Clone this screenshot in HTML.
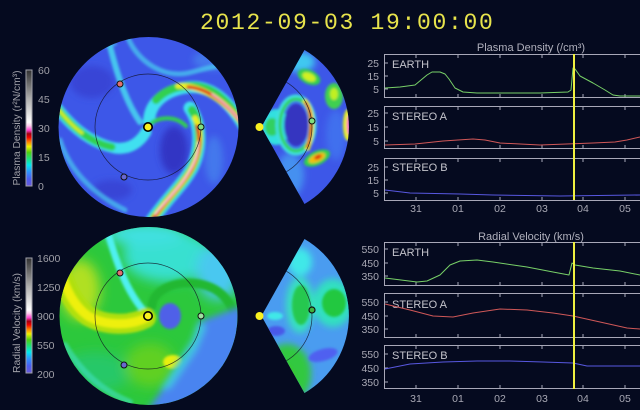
<!DOCTYPE html>
<html><head><meta charset="utf-8"><style>
html,body{margin:0;padding:0;background:#050a1f;}
svg{display:block;}
text{font-family:"Liberation Sans",sans-serif;}
</style></head><body>
<svg width="640" height="410" viewBox="0 0 640 410" xmlns="http://www.w3.org/2000/svg">
<defs>
<filter id="b1" x="-20%" y="-20%" width="140%" height="140%"><feGaussianBlur stdDeviation="1"/></filter>
<filter id="b2" x="-30%" y="-30%" width="160%" height="160%"><feGaussianBlur stdDeviation="1.4"/></filter>
<filter id="b6" x="-50%" y="-50%" width="200%" height="200%"><feGaussianBlur stdDeviation="6"/></filter>
<filter id="b4" x="-50%" y="-50%" width="200%" height="200%"><feGaussianBlur stdDeviation="3.5"/></filter>
<clipPath id="cTop"><circle cx="148.5" cy="127" r="90"/></clipPath>
<clipPath id="cBot"><circle cx="148.5" cy="316" r="89"/></clipPath>
<clipPath id="wTop"><path d="M262,126 L304.5,50 A89,89 0 0 1 304.5,204 L262,128 Z"/></clipPath>
<clipPath id="wBot"><path d="M262,315 L304.5,239 A89,89 0 0 1 304.5,393 L262,317 Z"/></clipPath>
<linearGradient id="cmap" x1="0" y1="1" x2="0" y2="0">
<stop offset="0" stop-color="#6a5ad8"/>
<stop offset="0.06" stop-color="#4a5cf0"/>
<stop offset="0.12" stop-color="#3090ff"/>
<stop offset="0.18" stop-color="#00e8f0"/>
<stop offset="0.24" stop-color="#20e070"/>
<stop offset="0.29" stop-color="#50d010"/>
<stop offset="0.34" stop-color="#f0f000"/>
<stop offset="0.38" stop-color="#ff8000"/>
<stop offset="0.42" stop-color="#f00000"/>
<stop offset="0.45" stop-color="#a00010"/>
<stop offset="0.48" stop-color="#ff40d0"/>
<stop offset="0.52" stop-color="#ffd0f0"/>
<stop offset="0.55" stop-color="#ffffff"/>
<stop offset="0.75" stop-color="#b0b0b0"/>
<stop offset="1" stop-color="#303030"/>
</linearGradient>
</defs>

<rect width="640" height="410" fill="#050a1f"/>

<!-- Title -->
<text x="200" y="29" font-size="23" letter-spacing="1.7" fill="#e8e44c" style="font-family:'Liberation Mono',monospace">2012-09-03 19:00:00</text>

<!-- Colorbars -->
<rect x="26" y="70" width="6" height="116" fill="url(#cmap)" stroke="#a0a0a8" stroke-width="1"/>
<g font-size="10.5" fill="#a0a0a8">
<text x="38" y="74">60</text>
<text x="38" y="103">45</text>
<text x="38" y="132">30</text>
<text x="38" y="161">15</text>
<text x="38" y="190">0</text>
</g>
<text transform="translate(20,128) rotate(-90)" text-anchor="middle" font-size="10.5" fill="#a0a0a8" textLength="115" lengthAdjust="spacingAndGlyphs">Plasma Density (r²N/cm³)</text>

<rect x="26" y="258" width="6" height="115" fill="url(#cmap)" stroke="#a0a0a8" stroke-width="1"/>
<g font-size="10.5" fill="#a0a0a8">
<text x="37" y="262">1600</text>
<text x="37" y="291">1250</text>
<text x="37" y="320">900</text>
<text x="37" y="349">550</text>
<text x="37" y="378">200</text>
</g>
<text transform="translate(20,323) rotate(-90)" text-anchor="middle" font-size="10.5" fill="#a0a0a8" textLength="100" lengthAdjust="spacingAndGlyphs">Radial Velocity (km/s)</text>

<!-- Density circle -->
<g clip-path="url(#cTop)">
<rect x="55" y="33" width="190" height="190" fill="#3d57e8"/>
<g filter="url(#b4)">
<ellipse cx="174" cy="150" rx="14" ry="24" fill="#3336c4"/>
<ellipse cx="92" cy="82" rx="22" ry="16" fill="#3944d6"/>
<ellipse cx="112" cy="190" rx="20" ry="10" fill="#3944d6"/>
<ellipse cx="214" cy="160" rx="9" ry="24" fill="#4680ee" opacity="0.8"/>
<ellipse cx="215" cy="60" rx="22" ry="10" fill="#4680ee" opacity="0.8"/>
</g>
<g filter="url(#b2)" fill="none" stroke-linecap="round">
<path d="M140,122 C128,105 118,80 108,38" stroke="#48d8f0" stroke-width="6" opacity="0.85"/>
<path d="M128,38 C138,62 165,80 192,72 C208,68 220,64 234,66" stroke="#48d0f0" stroke-width="5" opacity="0.7"/>
<path d="M60,140 C70,172 95,195 125,210" stroke="#48c8f0" stroke-width="5" opacity="0.7"/>
<path d="M72,62 C85,52 100,46 115,44" stroke="#48c0f0" stroke-width="4" opacity="0.6"/>
<!-- Arm A -->
<path d="M50,98 C68,125 90,143 115,148 C130,150 140,142 146,132" stroke="#40e0f0" stroke-width="11"/>
<path d="M50,98 C68,125 90,143 112,147" stroke="#30d050" stroke-width="7"/>
<path d="M50,98 C62,115 72,126 82,133" stroke="#d8f020" stroke-width="3"/>
<!-- Arm B -->
<path d="M149,121 C150,100 170,88 192,87 C212,87 228,100 244,126" stroke="#40e0f0" stroke-width="12"/>
<path d="M156,100 C165,90 178,86 192,86 C212,86 228,100 244,126" stroke="#30d050" stroke-width="8"/>
<path d="M178,86 C195,85 222,95 244,126" stroke="#e8f020" stroke-width="5.5"/>
<path d="M188,87 C205,88 225,100 244,126" stroke="#e02020" stroke-width="3.2"/>
<path d="M212,94 C224,102 234,112 244,126" stroke="#ffc0e0" stroke-width="1.5"/>
<!-- CME arc -->
<path d="M190,108 C202,125 201,150 192,168 C183,185 165,200 148,226" stroke="#40e0f0" stroke-width="13"/>
<path d="M192,110 C202,125 201,150 192,168 C183,185 165,200 148,226" stroke="#30d050" stroke-width="8.5"/>
<path d="M195,118 C202,130 201,150 192,168 C183,185 165,200 148,226" stroke="#e8f020" stroke-width="5.5"/>
<path d="M197,126 C201,140 200,152 192,168 C183,185 165,200 148,226" stroke="#e02020" stroke-width="3.2"/>
<path d="M198,142 C198,152 196,160 190,170 C182,185 168,198 155,214" stroke="#ffe0f0" stroke-width="1.6"/>
<!-- near-sun hook -->
<path d="M150,124 C160,116 176,116 186,126" stroke="#30d050" stroke-width="4"/>
</g>
<circle cx="148" cy="127" r="53" fill="none" stroke="#101020" stroke-width="0.7" opacity="0.8"/>
</g>
<circle cx="120" cy="84" r="3" fill="#e07070" stroke="#111" stroke-width="1"/>
<circle cx="124" cy="177" r="3" fill="#6868d0" stroke="#111" stroke-width="1"/>
<circle cx="201" cy="127" r="3" fill="#80e080" stroke="#111" stroke-width="1"/>
<circle cx="148" cy="127" r="4.2" fill="#f8f020" stroke="#000" stroke-width="1.6"/>

<!-- Density wedge -->
<g clip-path="url(#wTop)">
<rect x="255" y="45" width="100" height="165" fill="#3d57e8"/>
<g filter="url(#b4)">
<ellipse cx="300" cy="62" rx="15" ry="10" fill="#40c8f0"/>
<ellipse cx="290" cy="175" rx="14" ry="22" fill="#4590f0"/>
<ellipse cx="336" cy="135" rx="10" ry="25" fill="#4070ee"/>
</g>
<g filter="url(#b2)">
<ellipse cx="276" cy="127" rx="14" ry="18" fill="#30e0e0"/>
<ellipse cx="272" cy="127" rx="7" ry="9" fill="#30d060"/>
<ellipse cx="296" cy="125" rx="17" ry="27" fill="none" stroke="#40e0e0" stroke-width="7"/>
<ellipse cx="296" cy="125" rx="16" ry="26" fill="none" stroke="#30d050" stroke-width="3"/>
<ellipse cx="296" cy="125" rx="12" ry="21" fill="#3636c0"/>
<path d="M304,100 C313,110 314,130 307,150" fill="none" stroke="#e8f020" stroke-width="5"/>
<path d="M305,102 C313,112 313,130 307,148" fill="none" stroke="#e02020" stroke-width="2.5"/>
<ellipse cx="309" cy="77" rx="12" ry="7" fill="#30d050" transform="rotate(25 309 77)"/>
<ellipse cx="309" cy="77" rx="7" ry="4" fill="#d0f020" transform="rotate(25 309 77)"/>
<ellipse cx="334" cy="96" rx="9" ry="13" fill="#40d050"/>
<ellipse cx="334" cy="94" rx="4" ry="6" fill="#c0f020"/>
<ellipse cx="317" cy="158" rx="14" ry="7" fill="#30d050" transform="rotate(-25 317 158)"/>
<ellipse cx="317" cy="158" rx="9" ry="4" fill="#f0c010" transform="rotate(-25 317 158)"/>
<ellipse cx="318" cy="157" rx="4" ry="2" fill="#e03010" transform="rotate(-25 318 157)"/>
<ellipse cx="348" cy="125" rx="5" ry="16" fill="#e8f020"/>
<ellipse cx="349" cy="125" rx="2.5" ry="10" fill="#ff70c0"/>
</g>
<circle cx="260" cy="127" r="52" fill="none" stroke="#101020" stroke-width="0.7" opacity="0.8"/>
</g>
<circle cx="312" cy="121" r="3" fill="#80e080" stroke="#111" stroke-width="1"/>
<circle cx="259.5" cy="127" r="4" fill="#f8f020"/>

<!-- Velocity circle -->
<g clip-path="url(#cBot)">
<rect x="55" y="222" width="190" height="190" fill="#2cc83c"/>
<g filter="url(#b6)">
<ellipse cx="168" cy="256" rx="45" ry="26" fill="#38e0d0"/>
<ellipse cx="218" cy="272" rx="22" ry="28" fill="#48c8f0"/>
<ellipse cx="80" cy="290" rx="20" ry="30" fill="#b0e020"/>
<ellipse cx="95" cy="372" rx="35" ry="20" fill="#28c868"/>
<ellipse cx="150" cy="365" rx="25" ry="22" fill="#60d020"/>
<ellipse cx="145" cy="234" rx="40" ry="12" fill="#40e0e0"/>
</g>
<g filter="url(#b2)" fill="none" stroke-linecap="round">
<path d="M145,312 C130,296 118,270 106,226" stroke="#50f0f0" stroke-width="7"/>
<path d="M152,306 C153,290 175,280 200,284 C220,288 230,300 236,318" stroke="#22b830" stroke-width="9"/>
<path d="M146,318 C130,326 105,326 88,316 C74,306 66,290 60,270" stroke="#b0e010" stroke-width="20"/>
<path d="M146,318 C130,326 105,326 88,316 C74,306 66,290 60,270" stroke="#eef010" stroke-width="9"/>
<path d="M65,345 C80,370 100,390 130,402" stroke="#40e0c0" stroke-width="6" opacity="0.6"/>
<ellipse cx="170" cy="316" rx="11" ry="13" fill="#5060e8" stroke="none"/>
<ellipse cx="173" cy="362" rx="10" ry="7" fill="#e8f010" stroke="none"/>
</g>
<g filter="url(#b4)">
<path d="M198,322 L242,306 L242,412 L146,412 L162,390 L190,352 Z" fill="#4a84f0"/>
<path d="M192,340 L198,322 L206,326 L196,350 L170,388 L160,390 Z" fill="#40c8e0"/>
</g>
<circle cx="148" cy="316" r="53" fill="none" stroke="#101020" stroke-width="0.7" opacity="0.8"/>
</g>
<circle cx="120" cy="273" r="3" fill="#e07070" stroke="#111" stroke-width="1"/>
<circle cx="124" cy="365" r="3" fill="#6868d0" stroke="#111" stroke-width="1"/>
<circle cx="201" cy="316" r="3" fill="#a0e0a0" stroke="#111" stroke-width="1"/>
<circle cx="148" cy="316" r="4.2" fill="#f8f020" stroke="#000" stroke-width="1.6"/>

<!-- Velocity wedge -->
<g clip-path="url(#wBot)">
<rect x="255" y="234" width="100" height="165" fill="#4a9cf0"/>
<g filter="url(#b4)">
<ellipse cx="333" cy="303" rx="20" ry="24" fill="#30e0c0"/>
<ellipse cx="300" cy="305" rx="14" ry="28" fill="#38e0c0"/>
<ellipse cx="300" cy="262" rx="12" ry="14" fill="#40e8e8"/>
<ellipse cx="287" cy="374" rx="24" ry="30" fill="#30c840"/>
</g>
<g filter="url(#b2)">
<ellipse cx="334" cy="303" rx="12" ry="14" fill="#20c840"/>
<ellipse cx="301" cy="305" rx="9" ry="20" fill="#28c850"/>
<ellipse cx="276" cy="331" rx="9" ry="5" fill="#4a58e8"/>
<ellipse cx="323" cy="355" rx="15" ry="6" fill="#5060f0" transform="rotate(-15 323 355)"/>
<ellipse cx="275" cy="316" rx="8" ry="4" fill="#40e8e8"/>
<ellipse cx="283" cy="380" rx="13" ry="18" fill="#38c830"/>
</g>
<circle cx="260" cy="316" r="52" fill="none" stroke="#101020" stroke-width="0.7" opacity="0.8"/>
</g>
<circle cx="312" cy="310" r="3" fill="#40b040" stroke="#111" stroke-width="1.2"/>
<circle cx="259.5" cy="316" r="4" fill="#f8f020"/>

<!-- Right panels: titles -->
<text x="531" y="51" text-anchor="middle" font-size="11" fill="#b0b0bc">Plasma Density (/cm³)</text>
<text x="531" y="240" text-anchor="middle" font-size="11" fill="#b0b0bc">Radial Velocity (km/s)</text>

<!-- Boxes -->
<g fill="none" stroke="#a8a8b8" stroke-width="1">
<rect x="384.5" y="54.5" width="270" height="43"/>
<rect x="384.5" y="106.5" width="270" height="42"/>
<rect x="384.5" y="158.5" width="270" height="42"/>
<rect x="384.5" y="242.5" width="270" height="43"/>
<rect x="384.5" y="293.5" width="270" height="44"/>
<rect x="384.5" y="345.5" width="270" height="43"/>
</g>
<!-- ticks -->
<g stroke="#a8a8b8" stroke-width="1">
<path d="M416,55v3M458,55v3M500,55v3M542,55v3M583,55v3M625,55v3 M416,97v-3M458,97v-3M500,97v-3M542,97v-3M583,97v-3M625,97v-3"/>
<path d="M416,107v3M458,107v3M500,107v3M542,107v3M583,107v3M625,107v3 M416,148v-3M458,148v-3M500,148v-3M542,148v-3M583,148v-3M625,148v-3"/>
<path d="M416,159v3M458,159v3M500,159v3M542,159v3M583,159v3M625,159v3 M416,200v-3M458,200v-3M500,200v-3M542,200v-3M583,200v-3M625,200v-3"/>
<path d="M416,243v3M458,243v3M500,243v3M542,243v3M583,243v3M625,243v3 M416,285v-3M458,285v-3M500,285v-3M542,285v-3M583,285v-3M625,285v-3"/>
<path d="M416,294v3M458,294v3M500,294v3M542,294v3M583,294v3M625,294v3 M416,337v-3M458,337v-3M500,337v-3M542,337v-3M583,337v-3M625,337v-3"/>
<path d="M416,346v3M458,346v3M500,346v3M542,346v3M583,346v3M625,346v3 M416,388v-3M458,388v-3M500,388v-3M542,388v-3M583,388v-3M625,388v-3"/>
<path d="M385,63h3M385,76h3M385,89h3 M385,113h3M385,127h3M385,141h3 M385,167h3M385,180h3M385,193h3"/>
<path d="M385,249h3M385,263h3M385,276h3 M385,302h3M385,316h3M385,329h3 M385,354h3M385,368h3M385,382h3"/>
</g>

<!-- y labels -->
<g font-size="10.5" fill="#a8a8b4" text-anchor="end">
<text x="379" y="67">25</text><text x="379" y="80">15</text><text x="379" y="93">5</text>
<text x="379" y="117">25</text><text x="379" y="131">15</text><text x="379" y="145">5</text>
<text x="379" y="171">25</text><text x="379" y="184">15</text><text x="379" y="197">5</text>
<text x="379" y="253">550</text><text x="379" y="267">450</text><text x="379" y="280">350</text>
<text x="379" y="306">550</text><text x="379" y="320">450</text><text x="379" y="333">350</text>
<text x="379" y="358">550</text><text x="379" y="372">450</text><text x="379" y="386">350</text>
</g>
<!-- x labels -->
<g font-size="10.5" fill="#a8a8b4" text-anchor="middle">
<text x="416" y="212">31</text><text x="458" y="212">01</text><text x="500" y="212">02</text><text x="542" y="212">03</text><text x="583" y="212">04</text><text x="625" y="212">05</text>
<text x="416" y="402">31</text><text x="458" y="402">01</text><text x="500" y="402">02</text><text x="542" y="402">03</text><text x="583" y="402">04</text><text x="625" y="402">05</text>
</g>
<!-- panel labels -->
<g font-size="11" fill="#c4c4cc">
<text x="392" y="68">EARTH</text>
<text x="392" y="120">STEREO A</text>
<text x="392" y="171">STEREO B</text>
<text x="392" y="256">EARTH</text>
<text x="392" y="308">STEREO A</text>
<text x="392" y="359">STEREO B</text>
</g>

<!-- series -->
<g fill="none" stroke-width="1" stroke-linejoin="round">
<path d="M385,88 L400,87 L415,85 L421,80 L427,75 L432,72 L440,72 L445,74 L449,79 L455,88 L463,92 L477,93 L540,93 L568,92 L571,90 L573,68 L575,69 L580,76 L593,83 L605,90 L613,95 L620,96 L640,96" stroke="#78d068"/>
<path d="M385,145 L415,144 L443,141 L473,139 L485,140 L500,143 L540,145 L593,143 L615,142 L627,140 L640,137" stroke="#d05858"/>
<path d="M385,190 L410,193 L460,194 L493,195 L560,196 L640,195" stroke="#5858e0"/>
<path d="M385,278 L417,282 L427,281 L440,275 L450,265 L460,261 L477,260 L493,262 L527,267 L553,272 L569,275 L572,263 L575,265 L593,268 L620,271 L640,275" stroke="#78d068"/>
<path d="M385,304 L410,310 L433,316 L453,317 L473,313 L500,309 L527,310 L553,313 L573,316 L600,322 L627,328 L640,329" stroke="#d05858"/>
<path d="M385,369 L410,364 L443,362 L477,361 L510,361 L543,362 L573,363 L587,366 L600,366 L640,366" stroke="#5858e0"/>
</g>

<!-- time marker -->
<line x1="574" y1="54" x2="574" y2="200" stroke="#f0f040" stroke-width="2"/>
<line x1="574" y1="242" x2="574" y2="389" stroke="#f0f040" stroke-width="2"/>
</svg>
</body></html>
